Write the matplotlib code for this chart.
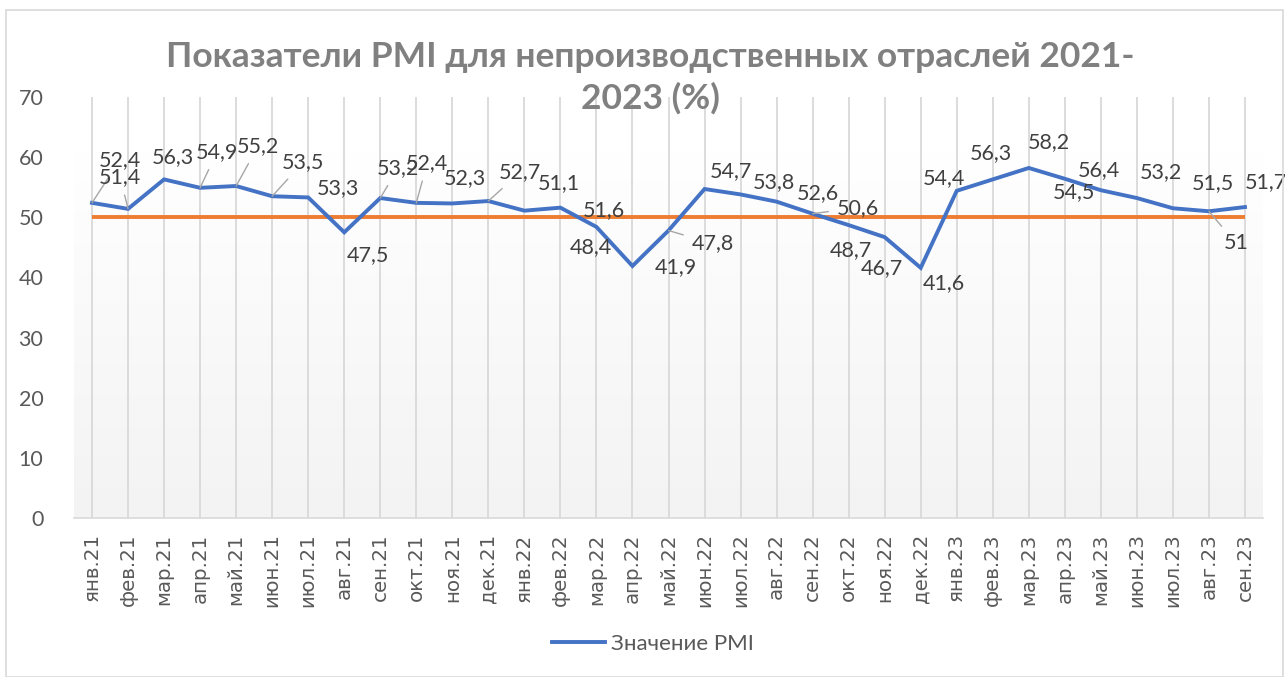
import matplotlib
matplotlib.use("Agg")
import matplotlib.pyplot as plt
import numpy as np
from matplotlib.lines import Line2D
from matplotlib.patches import Rectangle

months = ["янв.21", "фев.21", "мар.21", "апр.21", "май.21", "июн.21", "июл.21", "авг.21",
          "сен.21", "окт.21", "ноя.21", "дек.21", "янв.22", "фев.22", "мар.22", "апр.22",
          "май.22", "июн.22", "июл.22", "авг.22", "сен.22", "окт.22", "ноя.22", "дек.22",
          "янв.23", "фев.23", "мар.23", "апр.23", "май.23", "июн.23", "июл.23", "авг.23", "сен.23"]
pmi = [52.4, 51.4, 56.3, 54.9, 55.2, 53.5, 53.3, 47.5,
       53.2, 52.4, 52.3, 52.7, 51.1, 51.6, 48.4, 41.9,
       47.8, 54.7, 53.8, 52.6, 50.6, 48.7, 46.7, 41.6,
       54.4, 56.3, 58.2, 56.4, 54.5, 53.2, 51.5, 51.0, 51.7]
threshold = 50
series_name = "Значение PMI"
title = "Показатели PMI для непроизводственных отраслей 2021-\n2023 (%)"

# label offsets in pixels (dx right, dy down) and leader-line flags
label_offsets = [(28, -43), (-8, -32), (9, -22), (17, -36), (22, -40), (31, -34), (30, -9), (24, 23),
                 (18, -30), (11, -40), (13, -25), (32, -29), (34, -28), (43, 2), (-6, 20), (43, 1),
                 (44, 13), (26, -18), (33, -12), (41, -9), (45, -6), (2, 25), (-3, 31), (23, 15),
                 (-13, -13), (-2, -26), (20, -26), (34, -9), (-27, 2), (24, -26), (40, -25), (27, 32), (21, -25)]
leaders = {0, 1, 3, 4, 5, 8, 9, 11, 16, 20, 31}

FONT = "Lato"
W, H = 1285, 677
fig = plt.figure(figsize=(W / 100, H / 100), dpi=100)
fig.patch.set_facecolor("white")
fig.patches.append(Rectangle((6 / W, 0), (W - 8) / W, 1 - 10 / H, transform=fig.transFigure,
                             fill=False, edgecolor="#d9d9d9", linewidth=1.2))

ax = fig.add_axes([74 / W, 1 - 518 / H, (1263 - 74) / W, (518 - 97) / H])
n = len(months)
x = np.arange(n)

# subtle gradient background
grad = np.linspace(0, 1, 256).reshape(-1, 1)
ax.imshow(grad, extent=[-0.5, n - 0.5, 0, 61], aspect="auto", origin="lower",
          cmap=matplotlib.colors.LinearSegmentedColormap.from_list("g", ["#f3f3f3", "#ffffff"]),
          zorder=0)

ax.set_xlim(-0.5, n - 0.5)
ax.set_ylim(0, 70)
ax.set_yticks(range(0, 71, 10))
ax.set_xticks(x)
ax.set_xticklabels(months, rotation=90, fontsize=14, color="#595959", family="DejaVu Sans")
for lab in ax.get_yticklabels():
    lab.set_fontsize(15.5)
    lab.set_color("#595959")
    lab.set_family(FONT)
ax.tick_params(axis="both", length=0)
ax.tick_params(axis="y", pad=22)
ax.tick_params(axis="x", pad=11)
for s in ["top", "right", "left"]:
    ax.spines[s].set_visible(False)
ax.spines["bottom"].set_color("#d9d9d9")
ax.spines["bottom"].set_linewidth(1.2)
ax.grid(axis="x", color="#d9d9d9", linewidth=1.3, zorder=1)
ax.set_axisbelow(True)

# fit tick label size so that a label is ~68 px long as in the reference
fig.canvas.draw()
r = fig.canvas.get_renderer()
lab = ax.get_xticklabels()[-1]
ext = lab.get_window_extent(r)
scale = 68.0 / ext.height
for lab in ax.get_xticklabels():
    lab.set_fontsize(14 * scale)

ax.plot([x[0], x[-1]], [threshold, threshold], color="#ED7D31", linewidth=2.8, zorder=3,
        solid_capstyle="butt")
ax.plot(x, pmi, color="#4472C4", linewidth=2.8, zorder=4, solid_joinstyle="miter")

for i, v in enumerate(pmi):
    txt = f"{v:g}".replace(".", ",")
    dx, dy = label_offsets[i]
    ap = None
    if i in leaders:
        ap = dict(arrowstyle="-", color="#a6a6a6", lw=1.0, shrinkA=4, shrinkB=0)
    ax.annotate(txt, xy=(i, v), xytext=(dx, -dy), textcoords="offset pixels",
                ha="center", va="center", fontsize=15.5, color="#404040", family=FONT,
                arrowprops=ap, zorder=5, annotation_clip=False)

fig.text(650 / W, 1 - 78 / H, title, ha="center", va="center", fontsize=25.5, fontweight="bold",
         color="#808080", family=FONT, linespacing=1.35)

handle = Line2D([], [], color="#4472C4", linewidth=2.8)
leg = fig.legend([handle], [series_name], loc="center", bbox_to_anchor=(653 / W, 1 - 644 / H),
                 frameon=False, prop={"family": FONT, "size": 16}, handlelength=2.4, handletextpad=0.25)
for t in leg.get_texts():
    t.set_color("#595959")

fig.savefig("out.png", dpi=100)
